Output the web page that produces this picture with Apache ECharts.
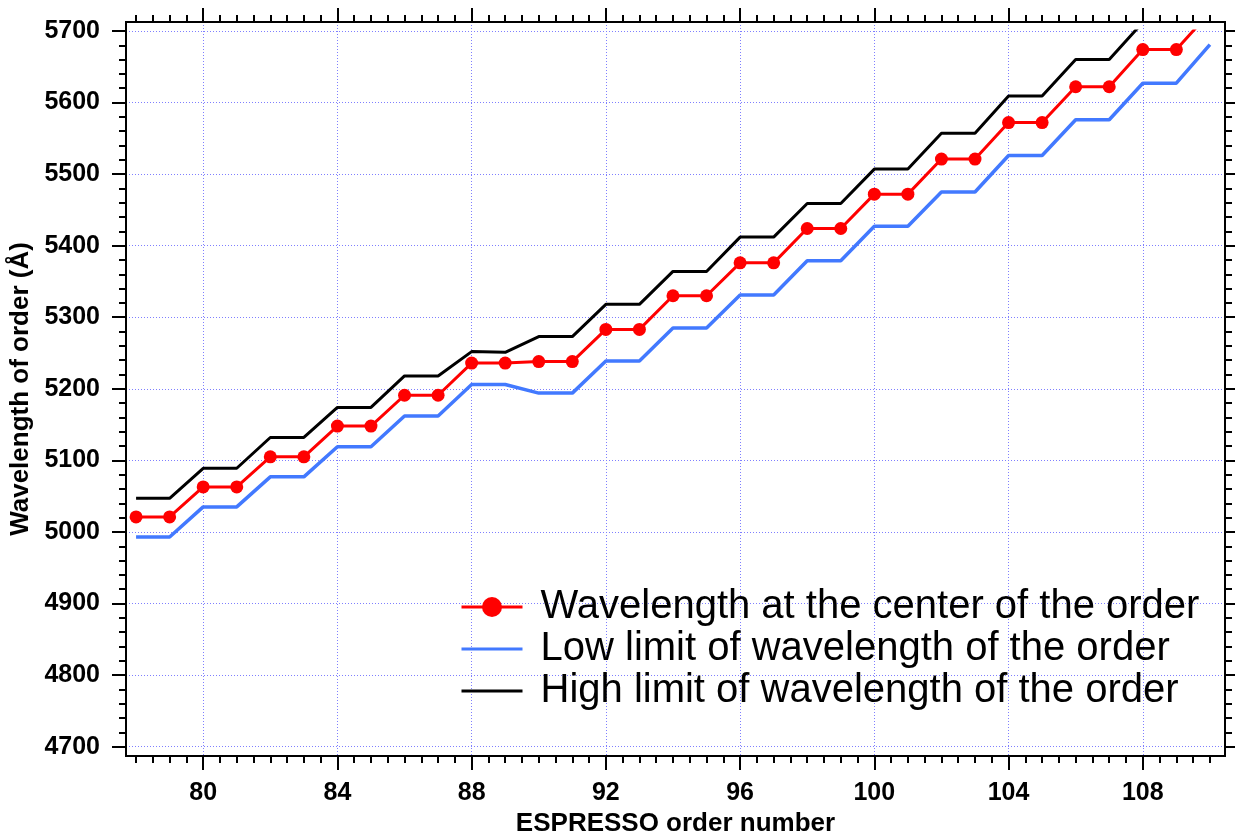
<!DOCTYPE html>
<html>
<head>
<meta charset="utf-8">
<title>ESPRESSO orders</title>
<script src="https://cdn.jsdelivr.net/npm/echarts@6/dist/echarts.min.js"></script>
<style>
  html, body { margin: 0; padding: 0; background: #fff; }
  #chart { width: 1235px; height: 836px; }
</style>
</head>
<body>
<div id="chart"></div>
<script>
// ESPRESSO order number
const orders = [78, 79, 80, 81, 82, 83, 84, 85, 86, 87, 88, 89, 90, 91, 92, 93, 94,
  95, 96, 97, 98, 99, 100, 101, 102, 103, 104, 105, 106, 107, 108, 109, 110]
// wavelength at the centre of the order (Å)
const centerWl = [5021, 5021, 5063, 5063, 5105, 5105, 5148, 5148, 5191, 5191, 5236, 5236,
  5238, 5238, 5283, 5283, 5330, 5330, 5376, 5376, 5424, 5424, 5472, 5472, 5521, 5521,
  5572, 5572, 5622, 5622, 5674, 5674, 5726]
// low limit
const lowWl = [4993, 4993, 5035, 5035, 5077, 5077, 5119, 5119, 5162, 5162, 5206, 5206,
  5194, 5194, 5239, 5239, 5285, 5285, 5331, 5331, 5379, 5379, 5427, 5427, 5475, 5475,
  5526, 5526, 5576, 5576, 5627, 5627, 5681]
// high limit
const highWl = [5047, 5047, 5089, 5089, 5132, 5132, 5174, 5174, 5218, 5218, 5252, 5251,
  5273, 5273, 5318, 5318, 5364, 5364, 5412, 5412, 5459, 5459, 5507, 5507, 5557, 5557,
  5609, 5609, 5660, 5660, 5712, 5712, 5764]

const seriesNames = [
  'Wavelength at the center of the order',
  'Low limit of wavelength of the order',
  'High limit of wavelength of the order'
]

// tick labels
const xMajorTicks = [80, 84, 88, 92, 96, 100, 104, 108]
const yMajorTicks = [4700, 4800, 4900, 5000, 5100, 5200, 5300, 5400, 5500, 5600, 5700]
const xMinorTicks = []
for (let v = 78; v <= 110; v += 0.5) xMinorTicks.push(v)
const yMinorTicks = []
for (let v = 4700; v <= 5700; v += 20) yMinorTicks.push(v)

// frame range (axes) and plotting range (curves are cut at 4700..5700)
const X_MIN = 77.7, X_MAX = 110.45
const Y_MIN = 4687, Y_MAX = 5712.5
const PLOT_Y_MIN = 4700, PLOT_Y_MAX = 5700

const font = 'Liberation Sans, Arial, Helvetica, sans-serif'
const gridColor = '#7f7fff'

// frame grid
const G_LEFT = 126, G_RIGHT = 10, G_TOP = 22, G_BOTTOM = 80
const G_H = 836 - G_TOP - G_BOTTOM
const pxPerUnit = G_H / (Y_MAX - Y_MIN)

function pairs(ys) {
  return orders.map((x, i) => [x, ys[i]])
}

// one axis = one set of ticks (major or minor), on one side
function makeAxis(dim, position, ticks, len, main) {
  const ax = {
    type: 'value',
    gridIndex: 0,
    position: position,
    min: dim === 'x' ? X_MIN : Y_MIN,
    max: dim === 'x' ? X_MAX : Y_MAX,
    axisLine: { show: true, onZero: false, lineStyle: { color: '#000', width: 2 } },
    axisTick: { show: true, inside: false, length: len, customValues: ticks, lineStyle: { color: '#000', width: 2 } },
    axisLabel: { show: false },
    splitLine: { show: false },
    minorTick: { show: false },
    axisPointer: { show: false }
  }
  if (main) {
    ax.axisLabel = {
      show: true,
      customValues: ticks,
      formatter: v => String(v),
      margin: dim === 'x' ? 25 : 26,
      fontSize: 25,
      fontWeight: 'bold',
      color: '#000',
      fontFamily: font
    }
    ax.splitLine = { show: true, lineStyle: { color: gridColor, width: 1, type: [1, 2] } }
    ax.nameLocation = 'middle'
    ax.nameTextStyle = { fontSize: 26, fontWeight: 'bold', color: '#000', fontFamily: font }
  }
  return ax
}

const xBottom = makeAxis('x', 'bottom', xMajorTicks, 14, true)
xBottom.name = 'ESPRESSO order number'
xBottom.nameGap = 52
const yLeft = makeAxis('y', 'left', yMajorTicks, 14, true)
yLeft.name = 'Wavelength of order (Å)'
yLeft.nameGap = 78

// hidden axes of the plotting grid
const hidden = { show: false }
const xData = { type: 'value', gridIndex: 1, min: X_MIN, max: X_MAX, show: false, axisLine: hidden, axisTick: hidden, axisLabel: hidden, splitLine: hidden }
const yData = { type: 'value', gridIndex: 1, min: PLOT_Y_MIN, max: PLOT_Y_MAX, show: false, axisLine: hidden, axisTick: hidden, axisLabel: hidden, splitLine: hidden }

const option = {
  animation: false,
  backgroundColor: '#fff',
  grid: [
    { left: G_LEFT, right: G_RIGHT, top: G_TOP, bottom: G_BOTTOM, containLabel: false, outerBoundsMode: 'none' },
    {
      left: G_LEFT, right: G_RIGHT,
      top: G_TOP + (Y_MAX - PLOT_Y_MAX) * pxPerUnit,
      bottom: G_BOTTOM + (PLOT_Y_MIN - Y_MIN) * pxPerUnit,
      containLabel: false, outerBoundsMode: 'none'
    }
  ],
  xAxis: [
    xBottom,
    makeAxis('x', 'bottom', xMinorTicks, 7, false),
    makeAxis('x', 'top', xMajorTicks, 14, false),
    makeAxis('x', 'top', xMinorTicks, 7, false),
    xData
  ],
  yAxis: [
    yLeft,
    makeAxis('y', 'left', yMinorTicks, 7, false),
    makeAxis('y', 'right', yMajorTicks, 14, false),
    makeAxis('y', 'right', yMinorTicks, 7, false),
    yData
  ],
  legend: {
    orient: 'vertical',
    left: 460,
    top: 586,
    padding: 0,
    itemGap: 0,
    itemWidth: 61,
    itemHeight: 25,
    selectedMode: false,
    lineStyle: { width: 3 },
    textStyle: { fontSize: 40, color: '#000', fontFamily: font, lineHeight: 42, padding: [0, 0, 0, 13] },
    data: [
      { name: seriesNames[0] },
      { name: seriesNames[1], itemStyle: { opacity: 0 } },
      { name: seriesNames[2], itemStyle: { opacity: 0 } }
    ]
  },
  series: [
    {
      name: seriesNames[0],
      type: 'line',
      xAxisIndex: 4,
      yAxisIndex: 4,
      data: pairs(centerWl),
      color: '#ff0000',
      symbol: 'circle',
      symbolSize: 13,
      showSymbol: true,
      clip: true,
      lineStyle: { width: 3, color: '#ff0000' },
      itemStyle: { color: '#ff0000' },
      z: 4
    },
    {
      name: seriesNames[1],
      type: 'line',
      xAxisIndex: 4,
      yAxisIndex: 4,
      data: pairs(lowWl),
      color: '#4279ff',
      symbol: 'none',
      clip: true,
      lineStyle: { width: 3.5, color: '#4279ff' },
      z: 3
    },
    {
      name: seriesNames[2],
      type: 'line',
      xAxisIndex: 4,
      yAxisIndex: 4,
      data: pairs(highWl),
      color: '#000000',
      symbol: 'none',
      clip: true,
      lineStyle: { width: 3, color: '#000000' },
      z: 3
    }
  ]
}

const chart = echarts.init(document.getElementById('chart'), null, { renderer: 'canvas' })
chart.setOption(option)
</script>
</body>
</html>
